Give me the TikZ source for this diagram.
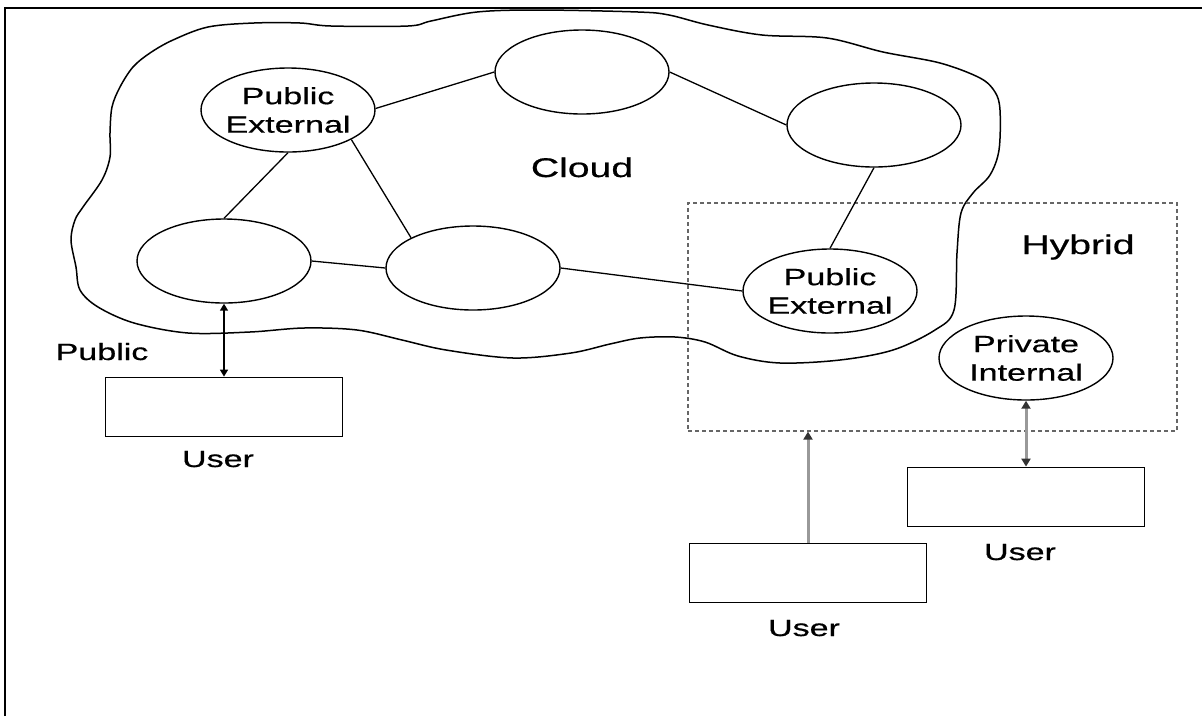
\documentclass[tikz,border=0pt]{standalone}
\usepackage{fontspec}
\setmainfont{Liberation Sans}[FakeStretch=1.45,FakeBold=0.6]
\usetikzlibrary{arrows.meta,shapes.geometric}

\begin{document}
\begin{tikzpicture}[x=1pt,y=-1pt,
  ell/.style={draw, ellipse, line width=1.4pt, minimum width=174pt,
    minimum height=84pt, inner sep=0pt},
  etext/.style={align=center, font=\fontsize{23.5}{28.5}\selectfont, inner sep=0pt},
  lbl/.style={anchor=base, font=\fontsize{23.5}{28}\selectfont, inner sep=0pt},
  biglbl/.style={anchor=base, font=\fontsize{27}{32}\selectfont, inner sep=0pt},
  userbox/.style={draw, line width=1.8pt, minimum width=237pt,
    minimum height=59pt, inner sep=0pt},
  link/.style={line width=1.3pt},
  hybridbox/.style={draw=black!60, line width=1.2pt, dash pattern=on 4pt off 3pt,
    minimum width=489pt, minimum height=228pt, inner sep=0pt},
  darkarrow/.style={line width=1.6pt,
    {Triangle[width=8pt,length=7pt]}-{Triangle[width=8pt,length=7pt]}},
  grayline/.style={draw=black!40, line width=3pt},
  graytip/.tip={Triangle[width=9pt,length=8pt,color=black!80]}
]
\useasboundingbox (0,0) rectangle (1202,716);

% outer frame (top and left rules)
\draw[line width=2.5pt] (5,716) -- (5,8) -- (1202,8);

% cloud outline
\draw[line width=1.5pt] plot[smooth cycle, tension=0.55] coordinates {
  (173,40) (208,27) (254,23) (300,23) (331,26) (408,26) (431,21) (477,12)
  (538,10) (638,12) (669,15) (708,25) (762,35) (827,38) (883,52) (940,63)
  (980,78) (995,92) (1000,110) (999,150) (990,175) (973,193) (961,213)
  (957,253) (954,310) (935,330) (893,350) (840,360) (780,363) (738,356)
  (705,342) (675,337) (640,338) (610,344) (571,353) (513,358) (446,350)
  (402,340) (357,330) (304,328) (250,332) (188,333) (134,323) (98,307)
  (80,290) (76,267) (71,240) (75,220) (83,207) (102,180) (110,157)
  (110,133) (112,107) (120,87) (133,67) (150,53)};

% hybrid region
\node[hybridbox] (hyb) at (932.5,317) {};

% servers
\node[ell] (pe1) at (288,110) {};
\node[ell] (tm)  at (582,72)  {};
\node[ell] (tr)  at (874,125) {};
\node[ell] (lm)  at (224,261) {};
\node[ell] (cm)  at (473,268) {};
\node[ell] (pe2) at (830,291) {};
\node[ell] (pi)  at (1026,358) {};

\node[etext] (pe1t) at (pe1) {Public\\External};
\node[etext] (pe2t) at (pe2) {Public\\External};
\node[etext] (pit)  at (pi)  {Private\\Internal};

% network links
\draw[link] (pe1.1) -- (tm.180);
\draw[link] (tm.east) -- (tr.west);
\draw[link] (tr.south) -- (pe2.north);
\draw[link] (pe1.south) -- (lm.north);
\draw[link] (pe1.-25) -- (cm.154);
\draw[link] (lm.east) -- (cm.west);
\draw[link] (cm.east) -- (pe2.west);

% users
\node[userbox] (u1) at (224,407) {};
\node[userbox] (u2) at (808,573) {};
\node[userbox] (u3) at (1026,497) {};

\node[lbl] (u1t) at (218,467) {User};
\node[lbl] (u2t) at (804,636) {User};
\node[lbl] (u3t) at (1020,560) {User};

% region labels
\node[biglbl] (cloudt)  at (582,177)  {Cloud};
\node[biglbl] (hybridt) at (1078,254) {Hybrid};
\node[lbl]    (publict) at (102,360)  {Public};

% access paths
\draw[darkarrow] (lm.south) -- (u1.north);
\coordinate (hybin) at (u2.north |- hyb.south);
\draw[grayline, -graytip] (u2.north) -- (hybin);
\draw[grayline, graytip-graytip] (pi.south) -- (u3.north);
\end{tikzpicture}
\end{document}
